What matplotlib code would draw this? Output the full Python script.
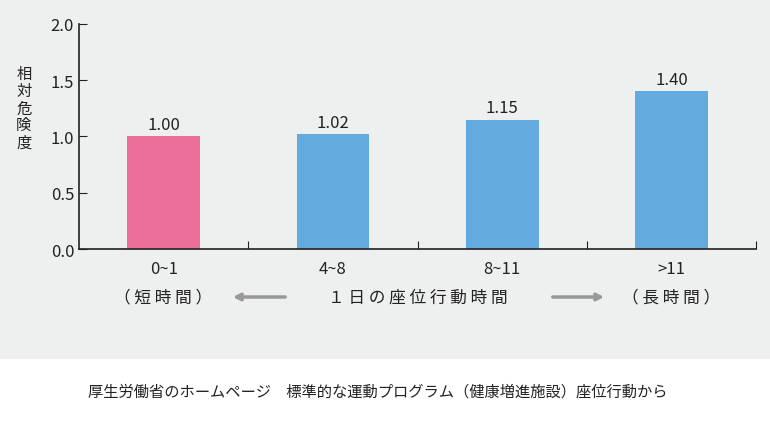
import matplotlib.pyplot as plt
from matplotlib.patches import Rectangle

plt.rcParams["font.family"] = ["Noto Sans CJK JP"]

categories = ["0~1", "4~8", "8~11", ">11"]
values = [1.00, 1.02, 1.15, 1.40]
value_labels = ["1.00", "1.02", "1.15", "1.40"]
colors = ["#ec6e9a", "#63abdf", "#63abdf", "#63abdf"]
y_ticks = [0.0, 0.5, 1.0, 1.5, 2.0]

fig = plt.figure(figsize=(7.70, 4.27), dpi=100)
fig.patch.set_facecolor("white")
fig.patches.append(Rectangle((0, 0.157), 1, 0.843, transform=fig.transFigure,
                             facecolor="#eeefef", edgecolor="none", zorder=-10))

ax = fig.add_axes([0.1026, 0.4145, 0.8794, 0.527])
ax.set_facecolor("none")
x = range(len(categories))
ax.bar(x, values, width=0.43, color=colors)
for xi, v, lab in zip(x, values, value_labels):
    ax.text(xi, v + 0.03, lab, ha="center", va="bottom", fontsize=12, color="#222222")

ax.set_xlim(-0.5, 3.5)
ax.set_ylim(0, 2.0)
ax.set_yticks(y_ticks)
ax.set_yticklabels([f"{t:.1f}" for t in y_ticks], fontsize=12, color="#222222")
ax.set_xticks([0.5, 1.5, 2.5, 3.5])
ax.set_xticklabels([])
ax.tick_params(axis="both", direction="in", length=6, color="#222222")
for s in ["top", "right"]:
    ax.spines[s].set_visible(False)
for s in ["left", "bottom"]:
    ax.spines[s].set_color("#222222")
    ax.spines[s].set_linewidth(1.2)

for xi, c in zip(x, categories):
    ax.text(xi, -0.1, c, ha="center", va="top", fontsize=12, color="#222222")

fig.text(0.031, 0.745, "相\n対\n危\n険\n度", ha="center", va="center", fontsize=11,
         linespacing=1.0, color="#222222")

row_y = 1 - 298 / 427
fig.text(163 / 770, row_y, "（ 短 時 間 ）", ha="center", va="center", fontsize=12, color="#222222")
fig.text(671 / 770, row_y, "（ 長 時 間 ）", ha="center", va="center", fontsize=12, color="#222222")
fig.text(418 / 770, row_y, "１ 日 の 座 位 行 動 時 間", ha="center", va="center", fontsize=12, color="#222222")
fig.add_artist(plt.Annotation("", xy=(230 / 770, row_y), xytext=(288 / 770, row_y),
                              xycoords="figure fraction", textcoords="figure fraction",
                              arrowprops=dict(arrowstyle="->", color="#999999", lw=2.5)))
fig.add_artist(plt.Annotation("", xy=(607 / 770, row_y), xytext=(550 / 770, row_y),
                              xycoords="figure fraction", textcoords="figure fraction",
                              arrowprops=dict(arrowstyle="->", color="#999999", lw=2.5)))

fig.text(378 / 770, 1 - 392 / 427,
         "厚生労働省のホームページ　標準的な運動プログラム（健康増進施設）座位行動から",
         ha="center", va="center", fontsize=11, color="#222222")

fig.savefig("out.png", dpi=100)
